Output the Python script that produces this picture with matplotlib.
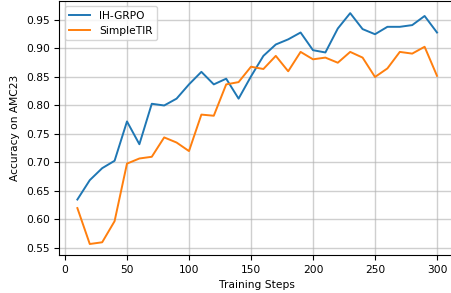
import matplotlib
matplotlib.use("Agg")
import matplotlib.pyplot as plt

steps = list(range(10, 301, 10))
ih_grpo = [0.635, 0.669, 0.690, 0.703, 0.772, 0.732, 0.803, 0.800, 0.812, 0.837,
           0.859, 0.837, 0.847, 0.812, 0.851, 0.887, 0.907, 0.916, 0.928, 0.897,
           0.893, 0.935, 0.962, 0.934, 0.925, 0.938, 0.938, 0.941, 0.957, 0.928]
simpletir = [0.620, 0.557, 0.560, 0.597, 0.698, 0.707, 0.710, 0.744, 0.735, 0.720,
             0.784, 0.782, 0.837, 0.841, 0.868, 0.864, 0.887, 0.860, 0.894, 0.881,
             0.884, 0.875, 0.894, 0.884, 0.850, 0.865, 0.894, 0.891, 0.903, 0.852]

plt.rcParams['font.size'] = 7.7
fig = plt.figure(figsize=(4.52, 2.93), dpi=100)
ax = fig.add_axes([0.1314, 0.1297, 0.8752, 0.8669])
ax.plot(steps, ih_grpo, color='#1f77b4', lw=1.4, label='IH-GRPO')
ax.plot(steps, simpletir, color='#ff7f0e', lw=1.4, label='SimpleTIR')
ax.set_xlim(-4.5, 314.5)
ax.set_ylim(0.5377, 0.9833)
ax.set_xticks([0, 50, 100, 150, 200, 250, 300])
ax.set_yticks([0.55, 0.60, 0.65, 0.70, 0.75, 0.80, 0.85, 0.90, 0.95])
ax.yaxis.set_major_formatter(matplotlib.ticker.FormatStrFormatter('%.2f'))
ax.spines['right'].set_visible(False)
ax.grid(True, color='#b0b0b0', alpha=0.6, lw=1.0)
ax.set_xlabel('Training Steps')
ax.set_ylabel('Accuracy on AMC23')
ax.legend(loc='upper left')
fig.savefig('out.png', dpi=100)
